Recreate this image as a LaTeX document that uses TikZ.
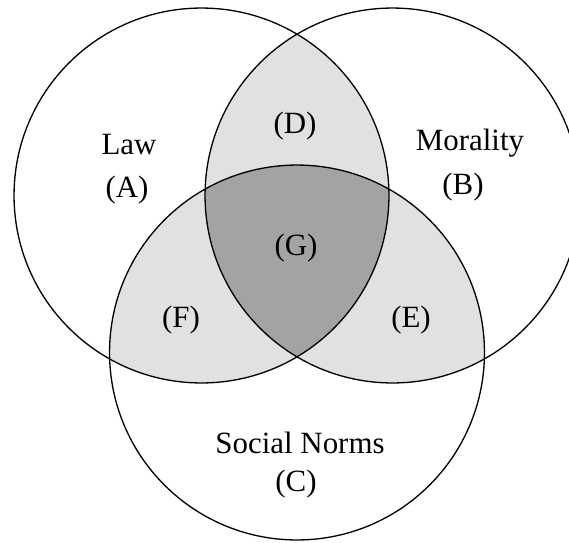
\documentclass[tikz,border=0pt]{standalone}
\usepackage{fontspec}
\setmainfont{Liberation Serif}
\usepackage{tikz}

\definecolor{pairgray}{HTML}{E1E1E1}
\definecolor{triplegray}{HTML}{A3A3A3}

\begin{document}
\begin{tikzpicture}[x=0.02cm, y=-0.02cm,
ring/.style={draw=black, line width=0.75pt},
tag/.style={font=\fontsize{17.6}{21}\selectfont, inner sep=0pt, align=center},
]
\useasboundingbox (0,0) rectangle (569,542);

% Circle centres
\coordinate (cLaw) at (201.5,195.5);   % Law, top-left
\coordinate (cMor) at (392.5,195.5);   % Morality, top-right
\coordinate (cSoc) at (297,352.5);     % Social norms, bottom

% Overlaps of two circles
\begin{scope}
\clip (cLaw) circle (3.75cm);
\fill[pairgray] (cMor) circle (3.75cm);
\fill[pairgray] (cSoc) circle (3.75cm);
\end{scope}
\begin{scope}
\clip (cMor) circle (3.75cm);
\fill[pairgray] (cSoc) circle (3.75cm);
\end{scope}

% Overlap of all three
\begin{scope}
\clip (cLaw) circle (3.75cm);
\clip (cMor) circle (3.75cm);
\fill[triplegray] (cSoc) circle (3.75cm);
\end{scope}

% Outlines
\draw[ring] (cLaw) circle (3.75cm);
\draw[ring] (cMor) circle (3.75cm);
\draw[ring] (cSoc) circle (3.75cm);

% Labels
\node[tag] (law) at (129,145) {Law};
\node[tag] (lawA) at (127,190) {(A)};
\node[tag] (mor) at (470,143) {Morality};
\node[tag] (morB) at (463,187) {(B)};
\node[tag] (soc) at (300,443) {Social Norms};
\node[tag] (socC) at (296,484) {(C)};
\node[tag] (regD) at (295,126) {(D)};
\node[tag] (regE) at (411,320) {(E)};
\node[tag] (regF) at (181,320) {(F)};
\node[tag] (regG) at (296,248) {(G)};

\end{tikzpicture}
\end{document}
